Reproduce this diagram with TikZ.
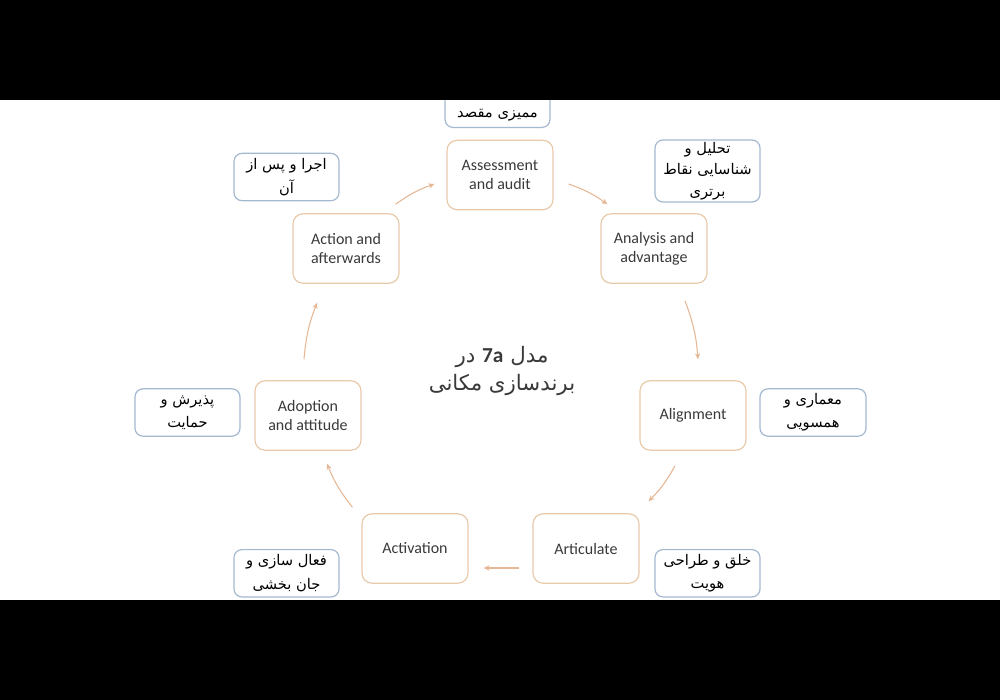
\documentclass[tikz,border=0pt]{standalone}
\usepackage{fontspec}
\setmainfont{Carlito}
\newfontfamily\fafont[Script=Arabic]{DejaVu Sans}
\TeXXeTstate=1
\usetikzlibrary{arrows.meta}
\definecolor{boxc}{HTML}{E8CAAB}
\definecolor{lblc}{HTML}{A4B9D0}
\definecolor{arrc}{HTML}{E6B896}
\definecolor{txtc}{HTML}{3A3A3A}
\newcommand\fatext[1]{\beginR #1\endR}
\begin{document}
\begin{tikzpicture}[x=0.75pt,y=-0.75pt,
  stepbox/.style={draw=boxc, line width=0.9pt, rounded corners=7.5pt,
    minimum width=79.5pt, minimum height=52pt, align=center,
    font=\fontsize{12}{14.5}\selectfont, text=txtc, inner sep=0pt},
  lblbox/.style={draw=lblc, line width=0.9pt, rounded corners=6pt,
    minimum width=78.75pt, minimum height=35.5pt, align=center,
    font=\fafont\fontsize{11}{17.5}\selectfont, inner sep=1pt},
  flow/.style={draw=arrc, line width=0.8pt, -{Stealth[length=4.5pt,width=4pt]}}]
\useasboundingbox (0,0) rectangle (1000,700);
\fill[white] (0,0) rectangle (1000,700);
% main steps
\node[stepbox] (ass) at (500,175) {Assessment\\and audit};
\node[stepbox] (ana) at (654,248.5) {Analysis and\\advantage};
\node[stepbox] (ali) at (693,415.5) {Alignment};
\node[stepbox] (art) at (586,548.5) {Articulate};
\node[stepbox] (acv) at (415,548.5) {Activation};
\node[stepbox] (ado) at (308,415.5) {Adoption\\and attitude};
\node[stepbox] (act) at (346,248.5) {Action and\\afterwards};
% Persian labels
\node[lblbox, anchor=south] (lass) at (497.5,128) {\phantom{x}\\\fatext{ممیزی مقصد}};
\node[lblbox, minimum height=46.5pt, font=\fafont\fontsize{11}{16}\selectfont] (lana) at (707.5,171) {\fatext{تحلیل و}\\\fatext{شناسایی نقاط}\\\fatext{برتری}};
\node[lblbox, minimum width=79.5pt] (lali) at (813,412.5) {\fatext{معماری و}\\\fatext{همسویی}};
\node[lblbox, anchor=north] (lart) at (707.5,549) {\fatext{خلق و طراحی}\\\fatext{هویت}};
\node[lblbox, anchor=north] (lacv) at (286.5,549) {\fatext{فعال سازی و}\\\fatext{جان بخشی}};
\node[lblbox] (lado) at (187.5,412.5) {\fatext{پذیرش و}\\\fatext{حمایت}};
\node[lblbox] (lact) at (286.5,177) {\fatext{اجرا و پس از}\\\fatext{آن}};
% centre title
\node[font=\fafont\fontsize{16}{21.5}\selectfont, text=txtc, align=center] (title) at (502,371)
  {\fatext{مدل \beginL{\fontspec{Carlito}\bfseries 7a}\endL{} در}\\\fatext{برندسازی مکانی}};
% connectors
\draw[flow] ([shift={(-4,-9)}]act.north east) to[bend left=8] ([shift={(-12,9)}]ass.west);
\draw[flow] ([shift={(15,9)}]ass.east) to[bend left=8] ([shift={(7,-9)}]ana.north west);
\draw[flow] ([shift={(31,17)}]ana.south) to[bend left=8] ([shift={(5,-21)}]ali.north);
\draw[flow] ([shift={(-18,15)}]ali.south) to[bend left=8] ([shift={(9,-12)}]art.north east);
\draw[flow] ([shift={(-13,19.5)}]art.west) -- ([shift={(15,19.5)}]acv.east);
\draw[flow] ([shift={(-9,-6)}]acv.north west) to[bend left=8] ([shift={(19,13)}]ado.south);
\draw[flow] ([shift={(-4,-21)}]ado.north) to[bend left=8] ([shift={(-29,19)}]act.south);
% black bars
\fill[black] (0,0) rectangle (1000,100);
\fill[black] (0,600) rectangle (1000,700);
\end{tikzpicture}
\end{document}
